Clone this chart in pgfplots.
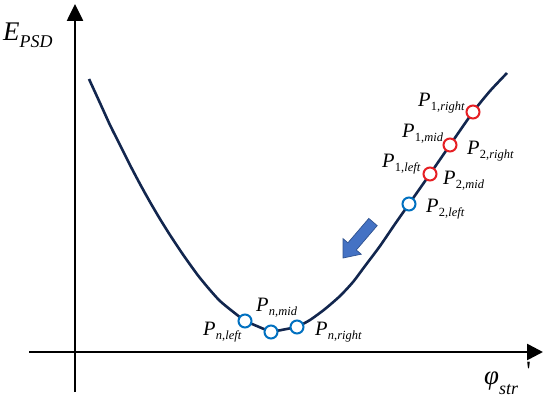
\documentclass[border=0pt]{standalone}
\usepackage{pgfplots}
\pgfplotsset{compat=1.18}
\usepackage{fontspec}
\setmainfont{Liberation Serif}
\newfontfamily\plainserif[Ligatures=ResetAll]{Liberation Serif}
\usetikzlibrary{arrows.meta}
\definecolor{curve}{RGB}{18,38,78}
\definecolor{mblue}{RGB}{0,112,192}
\definecolor{mred}{RGB}{230,30,35}
\definecolor{afill}{RGB}{68,114,196}
\definecolor{aedge}{RGB}{47,82,143}
\newcommand{\Plab}[2]{\fontsize{20.5}{22}\selectfont\textit{P}\kern0.3pt\raisebox{-4bp}{\fontsize{12.5}{14}\selectfont #1,\textit{#2}}}
\begin{document}
\begin{tikzpicture}
\begin{axis}[scale only axis, width=550bp, height=402bp,
  xmin=0, xmax=550, ymin=0, ymax=402, y dir=reverse,
  hide axis, clip=false]
\path (axis cs:0,0) rectangle (axis cs:550,402);
% axes
\draw[line width=2.6bp, -{Triangle[length=17bp,width=16bp]}] (axis cs:75,392) -- (axis cs:75,4);
\draw[line width=2.6bp, -{Triangle[length=16bp,width=16bp]}] (axis cs:29,352) -- (axis cs:543,352);
% curve
\addplot[curve, line width=2.6bp, smooth, tension=0.4] coordinates {
(89,79) (100,103) (110,125) (120,145) (130,165) (140,184) (150,202) (160,219) (170,235) (184,256) (200,278) (220,301) (245,321)};
\addplot[curve, line width=2.6bp] coordinates {(245,321) (271,332) (297,327)};
\addplot[curve, line width=2.6bp, smooth, tension=0.4] coordinates {
(297,327) (310,320) (325,309) (340,296) (353,282) (365,266) (380,246) (395,224) (409,204) (430,174) (450,145) (473,112) (490,91) (507,73)};
% markers
\addplot[only marks, mark=*, mark size=6.5bp, mark options={draw=mblue, fill=white, line width=2bp}] coordinates {(245,321) (271,332) (297,327) (409,204)};
\addplot[only marks, mark=*, mark size=6.5bp, mark options={draw=mred, fill=white, line width=2bp}] coordinates {(430,174) (450,145) (473,112)};
% arrow
\fill[afill, draw=aedge, line width=0.7bp] (axis cs:377.2,225.6) -- (axis cs:356.3,250.0) -- (axis cs:361.2,254.2) -- (axis cs:343,258) -- (axis cs:343.0,238.6) -- (axis cs:347.9,242.8) -- (axis cs:368.8,218.4) -- cycle;
% labels
\node[anchor=base west, inner sep=0] at (axis cs:418,106) {\Plab{1}{right}};
\node[anchor=base west, inner sep=0] at (axis cs:402,137) {\Plab{1}{mid}};
\node[anchor=base west, inner sep=0] at (axis cs:382,167) {\Plab{1}{left}};
\node[anchor=base west, inner sep=0] at (axis cs:467,154) {\Plab{2}{right}};
\node[anchor=base west, inner sep=0] at (axis cs:443,184) {\Plab{2}{mid}};
\node[anchor=base west, inner sep=0] at (axis cs:426,212) {\Plab{2}{left}};
\node[anchor=base west, inner sep=0] at (axis cs:256,311) {\Plab{\textit{n}}{mid}};
\node[anchor=base west, inner sep=0] at (axis cs:203,335) {\Plab{\textit{n}}{left}};
\node[anchor=base west, inner sep=0] at (axis cs:315,335) {\Plab{\textit{n}}{right}};
\node[anchor=base west, inner sep=0] at (axis cs:3,40) {\fontsize{27}{30}\selectfont\textit{E}\raisebox{-7bp}{\fontsize{18}{20}\selectfont\textit{PSD}}};
\node[anchor=base west, inner sep=0] at (axis cs:484,384) {\fontsize{27}{30}\selectfont\textit{φ}\raisebox{-10bp}{\fontsize{18}{20}\selectfont\textit{str}}};
\node[anchor=base west, inner sep=0] at (axis cs:526,380) {\plainserif\fontsize{28}{30}\selectfont '};
\end{axis}
\end{tikzpicture}
\end{document}
